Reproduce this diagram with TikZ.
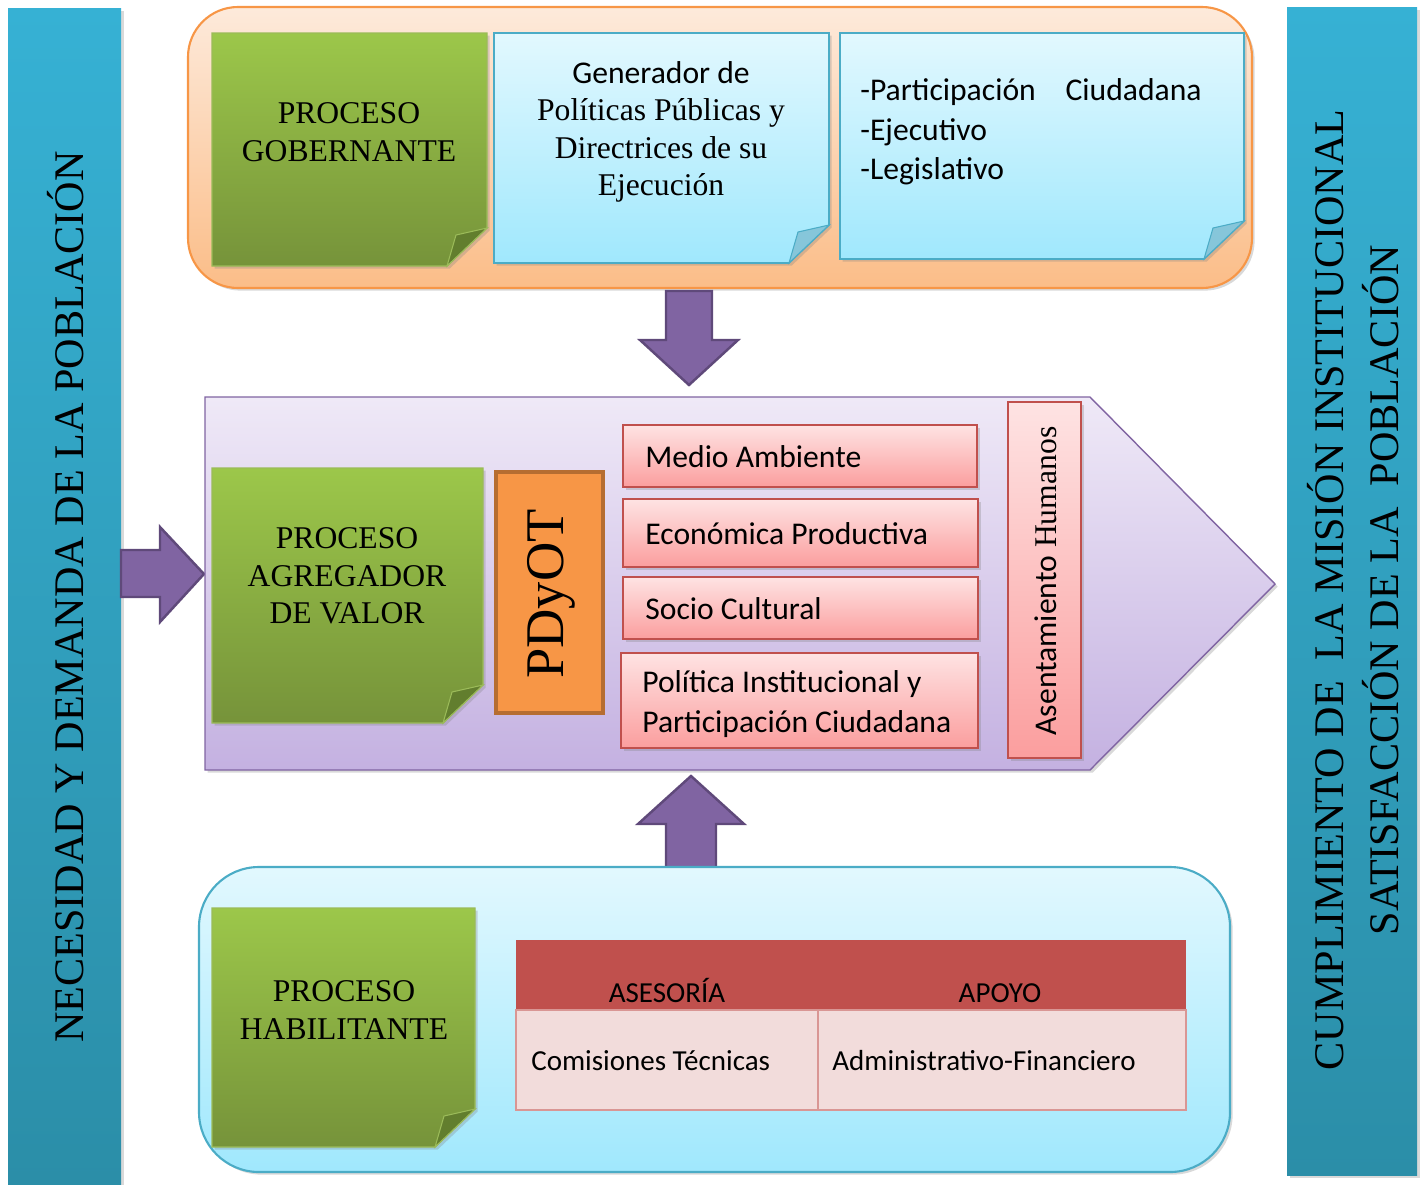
\documentclass[tikz,border=0pt]{standalone}
\usepackage{fontspec}
\setmainfont{Liberation Serif}
\setsansfont{Carlito}
\usetikzlibrary{shadows}

\definecolor{barTop}{HTML}{36B1D4}
\definecolor{barBot}{HTML}{2B8EA8}
\definecolor{govLine}{HTML}{F79646}
\definecolor{govTop}{HTML}{FDEADB}
\definecolor{govBot}{HTML}{FBBD88}
\definecolor{skyLine}{HTML}{4BACC6}
\definecolor{skyTop}{HTML}{E2F8FE}
\definecolor{skyBot}{HTML}{A0E8FD}
\definecolor{skyFold}{HTML}{86C6DA}
\definecolor{leafTop}{HTML}{9CC74A}
\definecolor{leafBot}{HTML}{76933A}
\definecolor{leafLine}{HTML}{9BBB59}
\definecolor{leafFold}{HTML}{627E2E}
\definecolor{plumFill}{HTML}{8064A2}
\definecolor{plumLine}{HTML}{5F497A}
\definecolor{lilacTop}{HTML}{EFE9F7}
\definecolor{lilacBot}{HTML}{C4B1E1}
\definecolor{roseTop}{HTML}{FEE3E3}
\definecolor{roseBot}{HTML}{FB9E9E}
\definecolor{roseLine}{HTML}{C0504D}
\definecolor{pdyFill}{HTML}{F79646}
\definecolor{pdyLine}{HTML}{B66D31}
\definecolor{tabHead}{HTML}{C0504D}
\definecolor{tabBody}{HTML}{F2DCDB}
\definecolor{tabLine}{HTML}{D99694}

% sticky note with folded corner: x1,y1,x2,y2,body style,fold style
\newcommand{\foldnote}[6]{%
  \path[#5] (#1,#2) -- (#3,#2) -- (#3,#4-38) -- (#3-40,#4) -- (#1,#4) -- cycle;
  \filldraw[#6] (#3,#4-38) -- (#3-31,#4-31) -- (#3-40,#4) -- cycle;}

\tikzset{
  softshadow/.style={drop shadow={opacity=0.3,shadow xshift=1.5pt,shadow yshift=-1.5pt}},
  sidebar/.style={top color=barTop,bottom color=barBot,softshadow},
  govbox/.style={top color=govTop,bottom color=govBot,draw=govLine,line width=1.2pt,rounded corners=1cm,softshadow},
  supbox/.style={top color=skyTop,bottom color=skyBot,draw=skyLine,line width=1.2pt,rounded corners=1.2cm,softshadow},
  leafnote/.style={top color=leafTop,bottom color=leafBot,draw=leafLine,line width=0.8pt,softshadow},
  leaffold/.style={fill=leafFold,draw=leafLine,line width=0.6pt},
  skynote/.style={top color=skyTop,bottom color=skyBot,draw=skyLine,line width=0.9pt,softshadow},
  skyfold/.style={fill=skyFold,draw=skyLine,line width=0.6pt},
  blockarrow/.style={fill=plumFill,draw=plumLine,line width=1.4pt,line join=miter},
  valuechain/.style={top color=lilacTop,bottom color=lilacBot,draw=plumFill,line width=0.8pt,softshadow},
  linebox/.style={top color=roseTop,bottom color=roseBot,draw=roseLine,line width=1pt,softshadow},
  procname/.style={font=\fontsize{18}{21.3}\selectfont,align=center},
  boxtext/.style={font=\sffamily\fontsize{18}{22.8}\selectfont,anchor=west,align=left},
  cell/.style={font=\sffamily\fontsize{16.5}{20}\selectfont},
  bartext/.style={rotate=90,align=center,font=\fontsize{24}{31.3}\selectfont}
}

\begin{document}
\begin{tikzpicture}[x=0.02cm,y=-0.02cm,every node/.style={inner sep=0pt}]
\useasboundingbox (0,0) rectangle (1427,1184);

% side bars
\path[sidebar] (8,8) rectangle (121,1184);
\node[bartext] (need) at (66,597) {NECESIDAD Y DEMANDA DE LA POBLACIÓN};
\path[sidebar] (1287,7) rectangle (1417,1175);
\node[bartext] (mission) at (1353,590) {CUMPLIMIENTO DE\ \ LA MISIÓN INSTITUCIONAL\\SATISFACCIÓN DE LA\ \ POBLACIÓN};

% proceso gobernante
\path[govbox] (188,7) rectangle (1252,288);
\foldnote{212}{33}{487}{266}{leafnote}{leaffold}
\node[procname] (gob) at (349,132) {PROCESO\\GOBERNANTE};
\foldnote{494}{33}{829}{263}{skynote}{skyfold}
\node[procname] (gen) at (661,132) {{\sffamily Generador de}\\Políticas Públicas y\\Directrices de su\\Ejecución};
\foldnote{840}{33}{1244}{259}{skynote}{skyfold}
\node[boxtext,anchor=base west,font=\sffamily\fontsize{18}{22.2}\selectfont] (powers) at (860,179)
  {-Participación\hspace{17pt}Ciudadana\\-Ejecutivo\\-Legislativo};

% arrows into the value chain
\path[blockarrow] (666,291) -- (712,291) -- (712,340) -- (738,340) -- (689,385) -- (640,340) -- (666,340) -- cycle;
\path[blockarrow] (121,550) -- (160,550) -- (160,527) -- (204,574) -- (160,622) -- (160,597) -- (121,597) -- cycle;
\path[blockarrow] (691,776) -- (744,824) -- (716,824) -- (716,868) -- (666,868) -- (666,824) -- (638,824) -- cycle;

% proceso agregador de valor
\path[valuechain] (205,397) -- (1090,397) -- (1275,584) -- (1090,770) -- (205,770) -- cycle;
\foldnote{212}{468}{483}{723}{leafnote}{leaffold}
\node[procname] (agr) at (347,576) {PROCESO\\AGREGADOR\\DE VALOR};
\draw[fill=pdyFill,draw=pdyLine,line width=2.2pt] (496,472) rectangle (603,713);
\node[rotate=90,font=\fontsize{31}{31}\selectfont] (pdyot) at (551,594) {PDyOT};

\draw[linebox] (623,425) rectangle (977,487);
\node[boxtext] (medio) at (645,457) {Medio Ambiente};
\draw[linebox] (623,499) rectangle (978,567);
\node[boxtext] (econ) at (645,534) {Económica Productiva};
\draw[linebox] (623,577) rectangle (978,639);
\node[boxtext] (socio) at (645,609) {Socio Cultural};
\draw[linebox] (621,653) rectangle (978,748);
\node[boxtext] (polit) at (642,704) {Política Institucional y\\Participación Ciudadana};
\draw[linebox] (1008,402) rectangle (1081,758);
\node[rotate=90,font=\fontsize{18}{18}\selectfont] (asent) at (1046,581) {{\sffamily Asentamiento} Humanos};

% proceso habilitante
\path[supbox] (199,867) rectangle (1230,1172);
\foldnote{212}{908}{475}{1147}{leafnote}{leaffold}
\node[procname] (hab) at (344,1010) {PROCESO\\HABILITANTE};

\fill[tabHead] (516,940) rectangle (1186,1010);
\draw[fill=tabBody,draw=tabLine,line width=1pt] (516,1010) rectangle (1186,1110);
\draw[tabLine,line width=1pt] (818,1010) -- (818,1110);
\node[cell,anchor=base] (ases) at (667,1002) {ASESORÍA};
\node[cell,anchor=base] (apoyo) at (1000,1002) {APOYO};
\node[cell,anchor=west] (comis) at (531,1061) {Comisiones Técnicas};
\node[cell,anchor=west] (admin) at (832,1061) {Administrativo-Financiero};
\end{tikzpicture}
\end{document}
